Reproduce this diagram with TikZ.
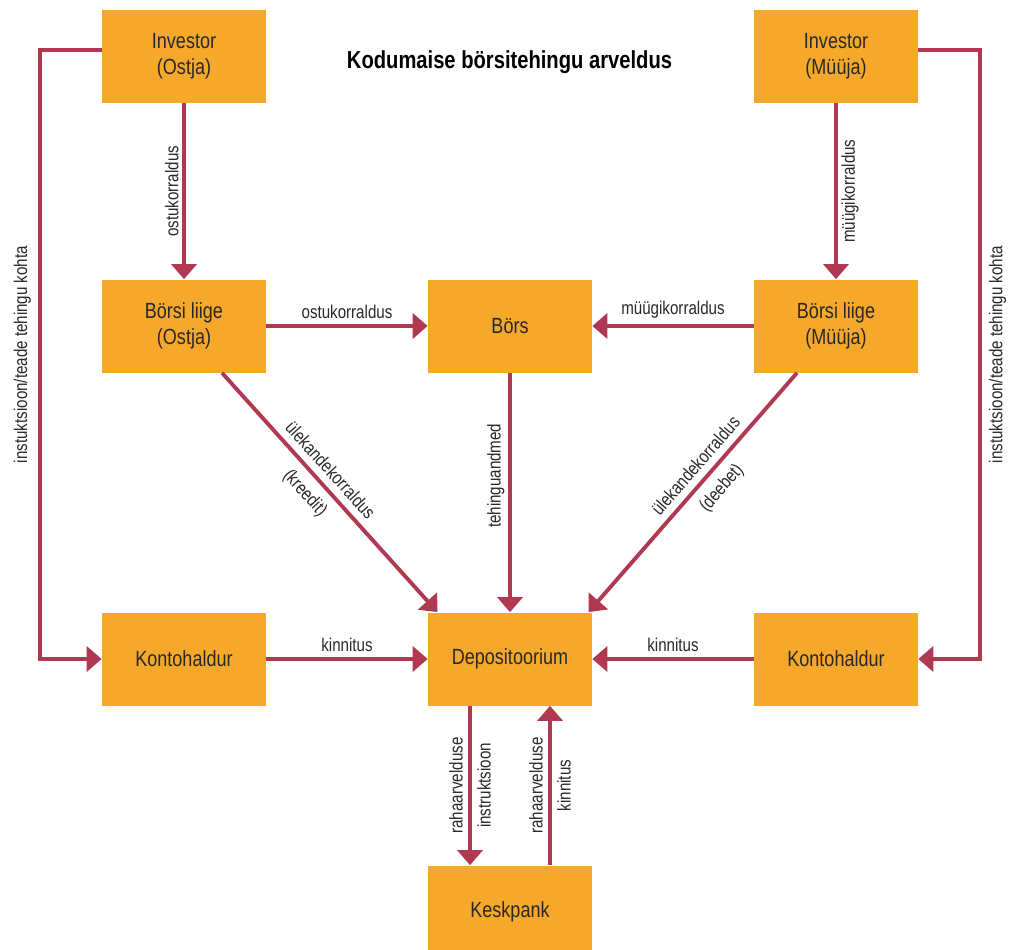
\documentclass[tikz,border=0pt]{standalone}
\usepackage{fontspec}
\setmainfont[FakeStretch=0.82]{Liberation Sans}
\usepackage{tikz}
\usetikzlibrary{arrows.meta, calc}

\definecolor{boxorange}{RGB}{246,168,43}
\definecolor{arrowred}{RGB}{176,56,80}
\definecolor{boxtext}{RGB}{40,40,40}

\begin{document}
\begin{tikzpicture}[node distance=6.52cm]
% Styles
\tikzstyle{party} = [rectangle, minimum width=3.28cm, minimum height=1.86cm, text centered, fill=boxorange, text=boxtext, align=center, font=\fontsize{12.5}{15}\selectfont]
\tikzstyle{arrow} = [line width=2.2pt, arrowred, -{Triangle[width=5mm, length=3mm]}]
\tikzstyle{lbl} = [text=boxtext, font=\fontsize{10.5}{12.5}\selectfont, inner sep=2pt]
\tikzstyle{heading} = [text=black, font=\fontsize{14}{16}\selectfont\bfseries]

\useasboundingbox (0,0) rectangle (20.18,-19);

% Nodes
\node (inv_buyer) [party] at (3.68,-1.13) {Investor\\(Ostja)};
\node (member_buyer) [party, below of=inv_buyer, yshift=1.13cm] {Börsi liige\\(Ostja)};
\node (exchange) [party, right of=member_buyer] {Börs};
\node (member_seller) [party, right of=exchange] {Börsi liige\\(Müüja)};
\node (inv_seller) [party, above of=member_seller, yshift=-1.13cm] {Investor\\(Müüja)};
\node (depository) [party, below of=exchange, yshift=-0.14cm] {Depositoorium};
\node (acc_buyer) [party, left of=depository] {Kontohaldur};
\node (acc_seller) [party, right of=depository] {Kontohaldur};
\node (central_bank) [party, below of=depository, yshift=1.46cm] {Keskpank};
\node (title) [heading] at (10.19,-1.24) {Kodumaise börsitehingu arveldus};

% Arrows
\draw [arrow] (inv_buyer) -- node[lbl, rotate=90, above] {ostukorraldus} (member_buyer);
\draw [arrow] (inv_seller) -- node[lbl, rotate=90, below] {müügikorraldus} (member_seller);
\draw [arrow] (member_buyer) -- node[lbl, above, yshift=1pt] {ostukorraldus} (exchange);
\draw [arrow] (member_seller) -- node[lbl, above, yshift=1pt] {müügikorraldus} (exchange);
\draw [arrow] (exchange) -- node[lbl, rotate=90, above, pos=0.43] {tehinguandmed} (depository);
\draw [arrow] ([xshift=0.76cm]member_buyer.south) -- node[lbl, sloped, above=2pt, pos=0.45] {ülekandekorraldus} node[lbl, sloped, below=3pt, pos=0.45] {(kreedit)} ([xshift=-1.45cm]depository.north);
\draw [arrow] ([xshift=-0.78cm]member_seller.south) -- node[lbl, sloped, above=2pt, pos=0.43] {ülekandekorraldus} node[lbl, sloped, below=3pt, pos=0.43] {(deebet)} ([xshift=1.57cm]depository.north);
\draw [arrow] (acc_buyer) -- node[lbl, above, yshift=1pt] {kinnitus} (depository);
\draw [arrow] (acc_seller) -- node[lbl, above, yshift=1pt] {kinnitus} (depository);
\draw [arrow] ([xshift=-0.8cm]depository.south) -- node[lbl, rotate=90, above=1pt] {rahaarvelduse} node[lbl, rotate=90, below=1pt] {instruktsioon} ([xshift=-0.8cm]central_bank.north);
\draw [arrow] ([xshift=0.8cm]central_bank.north) -- node[lbl, rotate=90, above=1pt] {rahaarvelduse} node[lbl, rotate=90, below=1pt] {kinnitus} ([xshift=0.8cm]depository.south);

% Instruction loops
\coordinate[left of=acc_buyer, xshift=3.64cm] (d1);
\coordinate[right of=acc_seller, xshift=-3.64cm] (d2);
\draw [arrow] ([yshift=1.3mm]inv_buyer.west) -| node[lbl, rotate=90, above=2pt, pos=0.75] {instuktsioon/teade tehingu kohta} (d1) -- (acc_buyer);
\draw [arrow] ([yshift=1.3mm]inv_seller.east) -| node[lbl, rotate=90, below=2pt, pos=0.75] {instuktsioon/teade tehingu kohta} (d2) -- (acc_seller);
\end{tikzpicture}
\end{document}
